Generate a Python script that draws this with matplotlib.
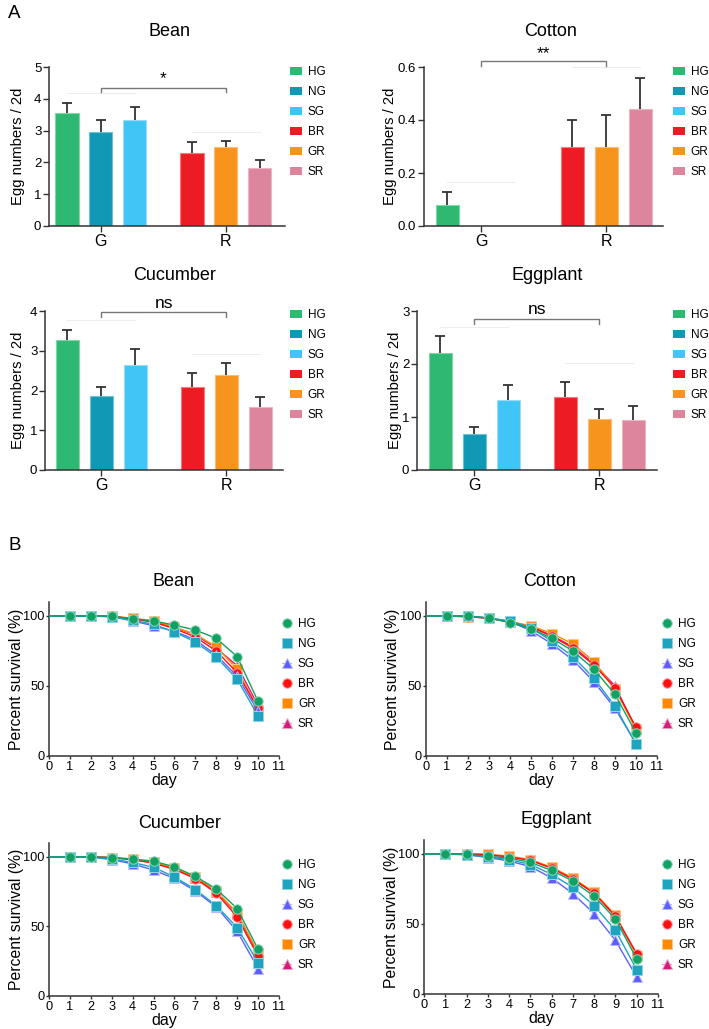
import matplotlib
matplotlib.use("Agg")
import matplotlib.pyplot as plt
from matplotlib.patches import Patch
from matplotlib.lines import Line2D
import numpy as np

plt.rcParams['font.family'] = ['Liberation Sans', 'DejaVu Sans']

# ---------------- data ----------------
groups = ['HG', 'NG', 'SG', 'BR', 'GR', 'SR']
group_ticks = ['G', 'R']

egg_bean = [3.55, 2.95, 3.33, 2.30, 2.50, 1.83]
egg_bean_err = [0.33, 0.38, 0.42, 0.35, 0.17, 0.24]
egg_cotton = [0.08, 0.0, 0.0, 0.30, 0.30, 0.44]
egg_cotton_err = [0.05, 0.0, 0.0, 0.10, 0.12, 0.12]
egg_cucumber = [3.28, 1.85, 2.63, 2.10, 2.38, 1.58]
egg_cucumber_err = [0.25, 0.23, 0.42, 0.35, 0.30, 0.26]
egg_eggplant = [2.20, 0.67, 1.33, 1.38, 0.97, 0.94]
egg_eggplant_err = [0.32, 0.15, 0.28, 0.28, 0.18, 0.27]

sig_bean, sig_cotton, sig_cucumber, sig_eggplant = '*', '**', 'ns', 'ns'

days = list(range(0, 11))
surv_bean = {
    'HG': [100, 100, 100, 99.8, 98, 96.5, 93.5, 90, 84, 71, 39],
    'NG': [100, 100, 100, 99.5, 97, 94, 88.6, 81.4, 70.7, 54.8, 28.6],
    'SG': [100, 100, 100, 99.5, 96.5, 93, 89, 83, 72, 57, 32],
    'BR': [100, 100, 100, 99.7, 98, 95.5, 91, 85, 75, 59.5, 34],
    'GR': [100, 100, 100, 99.8, 98.5, 96.5, 92, 87, 78, 62, 33],
    'SR': [100, 100, 100, 99.8, 98, 96, 92, 86.5, 77, 64.5, 36],
}
surv_cotton = {
    'HG': [100, 100, 99.8, 98.5, 95.3, 91, 84, 75, 62, 44, 16.5],
    'NG': [100, 100, 100, 98.5, 96.5, 91.5, 82, 71, 55.5, 35.5, 8.5],
    'SG': [100, 100, 100, 98.5, 96, 89.5, 80, 68.5, 53, 34, 9],
    'BR': [100, 100, 99.5, 98.5, 95.5, 92, 85.5, 77, 65, 48.5, 20.5],
    'GR': [100, 100, 99.5, 98.5, 96, 93, 87.5, 80, 67.5, 48, 19],
    'SR': [100, 100, 99.5, 98.5, 96, 92.5, 86, 78, 66, 50, 19.5],
}
surv_cucumber = {
    'HG': [100, 100, 100, 99.5, 98.5, 97, 92.8, 86, 77, 62.8, 33.6],
    'NG': [100, 100, 100, 98.5, 96, 92.5, 85.6, 76.5, 65, 49.2, 24],
    'SG': [100, 100, 100, 98, 95, 90.5, 84.5, 75.5, 64, 46.5, 19.7],
    'BR': [100, 100, 100, 99.5, 98, 95.5, 91, 84.4, 74, 56.8, 28.5],
    'GR': [100, 100, 100, 99.5, 98.5, 96, 92, 85.5, 75.5, 59.7, 31],
    'SR': [100, 100, 100, 99.5, 98, 96, 91.5, 85, 75, 59, 30],
}
surv_eggplant = {
    'HG': [100, 100, 99.8, 98.3, 97.1, 94, 88.3, 80.7, 69.8, 53.6, 25],
    'NG': [100, 100, 99.5, 98, 96, 92.5, 85.5, 76.2, 63.1, 45.5, 17.4],
    'SG': [100, 100, 99.5, 97.5, 95, 91, 82.9, 71.7, 57.4, 38.3, 12.1],
    'BR': [100, 100, 100, 99.5, 98, 95.5, 90, 82.1, 72, 55.5, 28.8],
    'GR': [100, 100, 100, 99.8, 98.5, 96, 90.5, 82.9, 72.6, 56.4, 27.5],
    'SR': [100, 100, 100, 99.5, 98, 95.5, 90, 82, 72, 55.5, 28],
}

# ---------------- styles ----------------
bar_colors = ['#2eb872', '#1198b4', '#41c5f7', '#ed1c24', '#f7941d', '#dc859c']
bar_edges = ['#7fd6a8', '#6fc0d3', '#9adcf9', '#f57a7f', '#fbbd75', '#ebb4c2']
line_colors = ['#12a064', '#1fa3bf', '#5e5eff', '#ff1010', '#ff8a00', '#d61c7b']
edge_colors = ['#8fd9b5', '#8fd6e4', '#b8b8ff', '#ff9a9a', '#ffc88a', '#ee9cc4']
markers = ['o', 's', '^', 'o', 's', '^']
bar_pos = [0, 1, 2, 3.68, 4.68, 5.68]
tick_pos = [1, 4.68]

W, H = 709, 1029
fig = plt.figure(figsize=(W / 100, H / 100), dpi=100)


def rect(l, t, r, b):
    return [l / W, 1 - b / H, (r - l) / W, (b - t) / H]


def fx(x):
    return x / W


def fy(y):
    return 1 - y / H


SPINE = '#333333'


def style_axes(ax, length=4, pad=1.5, labelsize=9.5):
    for s in ['top', 'right']:
        ax.spines[s].set_visible(False)
    for s in ['left', 'bottom']:
        ax.spines[s].set_color(SPINE)
        ax.spines[s].set_linewidth(1.1)
    ax.tick_params(axis='both', direction='out', length=length, width=1.0,
                   color=SPINE, labelsize=labelsize, pad=pad)


def bar_chart(box, xlim, vals, errs, ymax, yticks, yticklabels, title, title_xy,
              sig, br_y, br_drop, sig_y, faint, leg_xy, ylab_x):
    ax = fig.add_axes(rect(*box))
    style_axes(ax)
    ax.bar(bar_pos, vals, width=0.68, color=bar_colors,
           edgecolor=bar_edges, linewidth=0.8, zorder=2)
    for p, v, e in zip(bar_pos, vals, errs):
        if e > 0:
            ax.vlines(p, v, v + e, color='#333333', lw=1.3, zorder=3)
            ax.hlines(v + e, p - 0.14, p + 0.14, color='#333333', lw=1.3, zorder=3)
    # faint guide lines
    for (x0, x1, yv) in faint:
        ax.plot([x0, x1], [yv, yv], color='#ededed', lw=0.8, zorder=1)
    # bracket
    ax.plot([tick_pos[0], tick_pos[0], tick_pos[1], tick_pos[1]],
            [br_y - br_drop, br_y, br_y, br_y - br_drop],
            color='#777777', lw=1.0, clip_on=False, zorder=4)
    ax.text(np.mean(tick_pos), sig_y, sig, ha='center', va='center',
            fontsize=12.5, clip_on=False)
    ax.set_xlim(*xlim)
    ax.set_ylim(0, ymax)
    ax.set_yticks(yticks)
    ax.set_yticklabels(yticklabels)
    ax.set_xticks(tick_pos)
    ax.set_xticklabels(group_ticks, fontsize=11.5)
    ax.set_ylabel('Egg numbers / 2d', fontsize=10.7)
    ax.yaxis.set_label_coords(fx(ylab_x), 0.5 * (fy(box[1]) + fy(box[3])),
                              transform=fig.transFigure)
    fig.text(fx(title_xy[0]), fy(title_xy[1]), title, ha='center', va='center',
             fontsize=13)
    handles = [Patch(facecolor=c, edgecolor='none') for c in bar_colors]
    ax.legend(handles, groups, loc='upper left',
              bbox_to_anchor=(fx(leg_xy[0]), fy(leg_xy[1])),
              bbox_transform=fig.transFigure, frameon=False, fontsize=8.5,
              handlelength=1.0, handleheight=0.7, handletextpad=0.5,
              labelspacing=0.68, borderpad=0, borderaxespad=0)
    return ax


def surv_chart(box, data, title, title_xy, leg_xy, ylab_x):
    ax = fig.add_axes(rect(*box))
    style_axes(ax, length=2.5, pad=0.8, labelsize=9.2)
    order = list(range(len(groups)))[::-1]
    for i in order:
        g = groups[i]
        ax.plot(days, data[g], color=line_colors[i], lw=1.0,
                marker=markers[i], markersize=6.8,
                markerfacecolor=line_colors[i], markeredgecolor=edge_colors[i],
                markeredgewidth=0.7, markevery=slice(1, None), zorder=3)
    ax.set_xlim(0, 11)
    ax.set_ylim(0, 110)
    ax.set_xticks(range(0, 12))
    ax.set_yticks([0, 50, 100])
    ax.set_xlabel('day', fontsize=11.5, labelpad=0)
    ax.set_ylabel('Percent survival (%)', fontsize=11.3)
    ax.yaxis.set_label_coords(fx(ylab_x), 0.5 * (fy(box[1]) + fy(box[3])),
                              transform=fig.transFigure)
    fig.text(fx(title_xy[0]), fy(title_xy[1]), title, ha='center', va='center',
             fontsize=13)
    handles = [Line2D([0], [0], color=edge_colors[i], lw=0.8, marker=markers[i],
                      markersize=6.8, markerfacecolor=line_colors[i],
                      markeredgecolor=edge_colors[i], markeredgewidth=0.7)
               for i in range(len(groups))]
    ax.legend(handles, groups, loc='upper left',
              bbox_to_anchor=(fx(leg_xy[0]), fy(leg_xy[1])),
              bbox_transform=fig.transFigure, frameon=False, fontsize=8.5,
              handlelength=0.8, handletextpad=0.55,
              labelspacing=0.68, borderpad=0, borderaxespad=0)
    return ax


# ---------------- panel A ----------------
fig.text(fx(8), fy(14), 'A', fontsize=13.5, ha='left', va='center')

bar_chart((49, 67, 285, 226), (-0.53, 6.42), egg_bean, egg_bean_err, 5,
          [0, 1, 2, 3, 4, 5], ['0', '1', '2', '3', '4', '5'], 'Bean', (170, 32),
          sig_bean, 4.35, 0.15, 4.64,
          [(0, 2, 4.19), (3.68, 5.68, 2.96)], (290, 66), 25)

bar_chart((424, 67, 663, 226), (-0.68, 6.35), egg_cotton, egg_cotton_err, 0.6,
          [0, 0.2, 0.4, 0.6], ['0.0', '0.2', '0.4', '0.6'], 'Cotton', (551, 32),
          sig_cotton, 0.622, 0.018, 0.652,
          [(0, 2, 0.165), (3.68, 5.68, 0.6)], (673, 66), 397)

bar_chart((45, 311, 283, 470), (-0.65, 6.35), egg_cucumber, egg_cucumber_err, 4,
          [0, 1, 2, 3, 4], ['0', '1', '2', '3', '4'], 'Cucumber', (175, 275),
          sig_cucumber, 3.97, 0.12, 4.19,
          [(0, 2, 3.77), (3.68, 5.68, 2.93)], (290, 309), 25)

bar_chart((417, 311, 657, 470), (-0.68, 6.38), egg_eggplant, egg_eggplant_err, 3,
          [0, 1, 2, 3], ['0', '1', '2', '3'], 'Eggplant', (547, 275),
          sig_eggplant, 2.84, 0.09, 3.02,
          [(0, 2, 2.69), (3.68, 5.68, 2.01)], (673, 309), 402)

# ---------------- panel B ----------------
fig.text(fx(8), fy(545), 'B', fontsize=13.5, ha='left', va='center')

surv_chart((49, 602, 279, 756), surv_bean, 'Bean', (173, 582), (282, 618), 24)
surv_chart((426, 602, 657, 756), surv_cotton, 'Cotton', (550, 582), (662, 618), 400)
surv_chart((49, 843, 279, 996), surv_cucumber, 'Cucumber', (180, 823), (282, 859), 24)
surv_chart((424, 840, 658, 994), surv_eggplant, 'Eggplant', (556, 820), (662, 859), 399)

fig.savefig('out.png', dpi=100)
